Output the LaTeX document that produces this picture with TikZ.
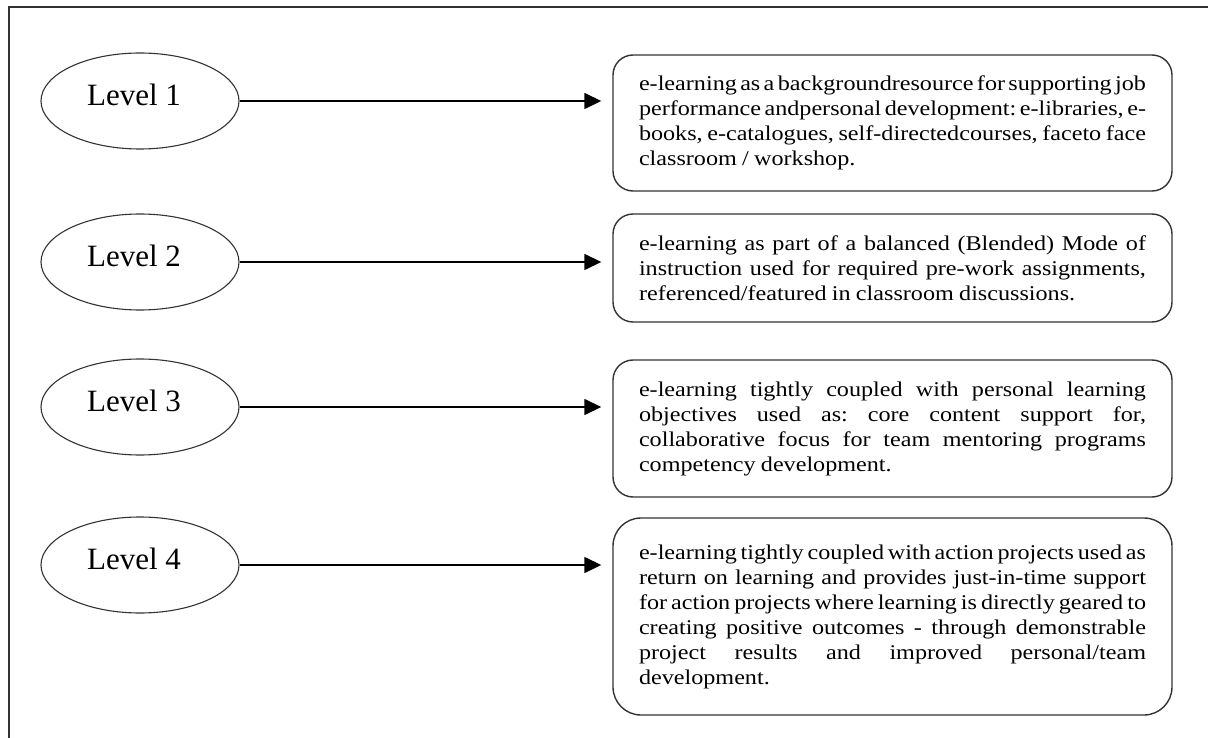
\documentclass[tikz,border=0pt]{standalone}
\usepackage{fontspec}
\setmainfont{Liberation Serif}
\newfontfamily\boxfont{Liberation Serif}[FakeStretch=1.15]
\newfontfamily\lvfont{Liberation Serif}
\usetikzlibrary{shapes.geometric,arrows.meta}
\newcommand{\jl}[1]{\hbox to 507pt{\frenchspacing\spaceskip=.25em plus 1fil minus .12em #1}}
\newcommand{\lastl}[1]{\hbox to 507pt{\frenchspacing\spaceskip=.25em plus .1em minus .05em #1\hfil}}
\tikzset{
  frame/.style={line width=1.4pt, draw=black!80},
  lvl/.style={ellipse, draw=black!80, line width=1.1pt, minimum width=198pt, minimum height=96pt, inner sep=0pt},
  lvltext/.style={font=\lvfont\fontsize{31}{34}\selectfont, inner sep=0pt},
  descbox/.style={draw=black!80, line width=1.4pt, rounded corners=20pt, minimum width=559pt, inner sep=0pt},
  desctext/.style={inner sep=0pt, text width=507pt, align=left, font=\boxfont\fontsize{21}{25}\selectfont},
  conn/.style={line width=1.5pt, -{Triangle[length=17pt,width=16pt]}, shorten >=11pt}
}
\begin{document}
\begin{tikzpicture}[x=1pt,y=-1pt]
\useasboundingbox (0,0) rectangle (1208,738);
\coordinate (fbl) at (9,740);
\coordinate (ftl) at (9,7);
\coordinate (ftr) at (1210,7);
\draw[frame] (fbl) -- (ftl) -- (ftr);

\node[lvl] (e1) at (140,101) {};
\node[lvl] (e2) at (140,262) {};
\node[lvl] (e3) at (140,407) {};
\node[lvl] (e4) at (140,565) {};
\node[lvltext] (t1) at (134,95) {Level 1};
\node[lvltext] (t2) at (134,256) {Level 2};
\node[lvltext] (t3) at (134,401) {Level 3};
\node[lvltext] (t4) at (134,559) {Level 4};

\node[descbox, minimum height=136pt] (b1) at (892.5,123) {};
\node[descbox, minimum height=108pt] (b2) at (892.5,268) {};
\node[descbox, minimum height=137pt] (b3) at (892.5,428.5) {};
\node[descbox, rounded corners=28pt, minimum height=197pt] (b4) at (892.5,616.5) {};

\node[desctext] (d1) at (b1.center) {%
\jl{e-learning as a backgroundresource for supporting job}
\jl{performance andpersonal development: e-libraries, e-}
\jl{books, e-catalogues, self-directedcourses, faceto face}
\lastl{classroom / workshop.}};

\node[desctext] (d2) at (b2.center) {%
\jl{e-learning as part of a balanced (Blended) Mode of}
\jl{instruction used for required pre-work assignments,}
\lastl{referenced/featured in classroom discussions.}};

\node[desctext] (d3) at (b3.center) {%
\jl{e-learning tightly coupled with personal learning}
\jl{objectives used as: core content support for,}
\jl{collaborative focus for team mentoring programs}
\lastl{competency development.}};

\node[desctext] (d4) at (b4.center) {%
\jl{e-learning tightly coupled with action projects used as}
\jl{return on learning and provides just-in-time support}
\jl{for action projects where learning is directly geared to}
\jl{creating positive outcomes - through demonstrable}
\jl{project results and improved personal/team}
\lastl{development.}};

\draw[conn] (e1.east) -- (e1.east -| b1.west);
\draw[conn] (e2.east) -- (e2.east -| b2.west);
\draw[conn] (e3.east) -- (e3.east -| b3.west);
\draw[conn] (e4.east) -- (e4.east -| b4.west);
\end{tikzpicture}
\end{document}
